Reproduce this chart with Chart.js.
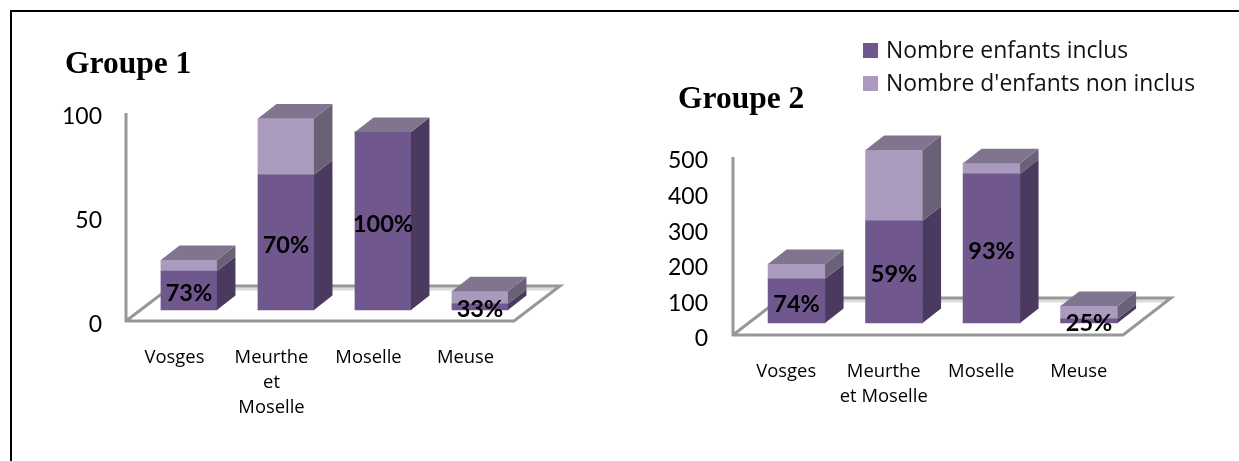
<!DOCTYPE html>
<html><head><meta charset="utf-8">
<script src="https://cdn.jsdelivr.net/npm/chart.js@4"></script>
<style>
html,body{margin:0;padding:0;background:#fff;}
body{width:1239px;height:461px;position:relative;overflow:hidden;}
#frame{position:absolute;left:9.5px;top:10px;width:1300px;height:500px;border-left:2px solid #000;border-top:2px solid #000;box-sizing:border-box;}
canvas{position:absolute;}
.title{position:absolute;font:bold 31.5px "Liberation Serif",serif;color:#000;white-space:nowrap;}
#legend{position:absolute;left:863px;top:34px;font:22.9px "Open Sans",sans-serif;color:#111;line-height:32.5px;white-space:nowrap;}
#legend i{display:inline-block;width:15px;height:15px;margin-right:8px;}
</style></head><body>
<div id="frame"></div>
<canvas id="c1" width="590" height="430" style="left:20px;top:14px;width:590px;height:430px"></canvas>
<canvas id="c2" width="600" height="430" style="left:630px;top:14px;width:600px;height:430px"></canvas>
<div class="title" style="left:65px;top:45px">Groupe 1</div>
<div class="title" style="left:678px;top:80px">Groupe 2</div>
<div id="legend"></div>
<script>
const seriesNames = ["Nombre enfants inclus", "Nombre d'enfants non inclus"];
const categories1 = ["Vosges", ["Meurthe", "et", "Moselle"], "Moselle", "Meuse"];
const categories2 = ["Vosges", ["Meurthe", "et Moselle"], "Moselle", "Meuse"];
const included1 = [18.7, 65, 85.6, 3];
const notIncluded1 = [5.3, 27, 0, 6];
const percent1 = ["73%", "70%", "100%", "33%"];
const included2 = [124, 287, 419, 12];
const notIncluded2 = [42, 199, 30, 36];
const percent2 = ["74%", "59%", "93%", "25%"];
const ticks1 = [0, 50, 100];
const ticks2 = [0, 100, 200, 300, 400, 500];

const DARK = "#70588f", LIGHT = "#aa9abd";
const SIDE = ["#4a3a5f", "#6b6177"], TOP = "#80758f", FLOOR = "#979797";

const depth3d = {
  id: "depth3d",
  beforeDatasetsDraw(chart, _a, o) {
    const { ctx, chartArea: ca } = chart;
    const l = ca.left, r = ca.right, b = ca.bottom;
    ctx.save();
    ctx.lineJoin = "miter";
    ctx.strokeStyle = "#dcdcdc"; ctx.lineWidth = 3;
    ctx.beginPath(); ctx.moveTo(l + o.floorX, b - o.floorY + 3); ctx.lineTo(r + o.floorX - 4, b - o.floorY + 3); ctx.stroke();
    ctx.strokeStyle = FLOOR; ctx.lineWidth = 3;
    ctx.beginPath();
    ctx.moveTo(l, ca.top); ctx.lineTo(l, b); ctx.lineTo(r, b);
    ctx.lineTo(r + o.floorX, b - o.floorY); ctx.lineTo(l + o.floorX, b - o.floorY); ctx.lineTo(l, b);
    ctx.stroke();
    ctx.restore();
  },
  afterDatasetsDraw(chart, _a, o) {
    const { ctx } = chart;
    const dx = o.dx, dy = o.dy;
    const metas = chart.getSortedVisibleDatasetMetas();
    ctx.save();
    metas.forEach((meta, di) => {
      meta.data.forEach((bar) => {
        const p = bar.getProps(["x", "y", "base", "width"], true);
        const xr = p.x + p.width / 2, xl = p.x - p.width / 2;
        if (p.base - p.y > 0.01) {
          ctx.fillStyle = SIDE[di];
          ctx.beginPath();
          ctx.moveTo(xr, p.base); ctx.lineTo(xr + dx, p.base - dy);
          ctx.lineTo(xr + dx, p.y - dy); ctx.lineTo(xr, p.y);
          ctx.closePath(); ctx.fill();
        }
        if (di === metas.length - 1) {
          ctx.fillStyle = TOP;
          ctx.beginPath();
          ctx.moveTo(xl, p.y); ctx.lineTo(xl + dx, p.y - dy);
          ctx.lineTo(xr + dx, p.y - dy); ctx.lineTo(xr, p.y);
          ctx.closePath(); ctx.fill();
        }
      });
    });
    ctx.fillStyle = "#000";
    ctx.font = "bold 23.5px Lato, sans-serif";
    ctx.textAlign = "center";
    ctx.textBaseline = "middle";
    metas[0].data.forEach((bar, i) => {
      const p = bar.getProps(["x", "y", "base"], true);
      ctx.fillText(o.labels[i], p.x, (p.y + p.base) / 2 + 3);
    });
    ctx.restore();
  }
};

function makeChart(id, cats, inc, non, pct, tickVals, cfg) {
  const points = (arr) => arr.map((v, i) => ({ x: i, y: v }));
  const tickMax = tickVals[tickVals.length - 1];
  return new Chart(document.getElementById(id), {
    type: "bar",
    data: {
      labels: cats,
      datasets: [
        { label: seriesNames[0], data: points(inc), backgroundColor: DARK, xAxisID: "xb", yAxisID: "y", barThickness: cfg.barW, clip: false },
        { label: seriesNames[1], data: points(non), backgroundColor: LIGHT, xAxisID: "xb", yAxisID: "y", barThickness: cfg.barW, clip: false }
      ]
    },
    options: {
      responsive: false,
      animation: false,
      events: [],
      layout: { padding: { top: cfg.padTop, right: cfg.padRight, left: 0, bottom: 0 } },
      plugins: {
        legend: { display: false },
        title: { display: false },
        tooltip: { enabled: false },
        depth3d: { dx: 18.5, dy: 14.5, floorX: cfg.floorX, floorY: cfg.floorY, labels: pct }
      },
      scales: {
        x: {
          type: "category", position: "bottom", offset: true,
          grid: { display: false }, border: { display: false },
          ticks: { color: "#000", padding: cfg.xPad, labelOffset: cfg.xLabelShift, maxRotation: 0, autoSkip: false, font: { family: "Open Sans", size: 18.4, lineHeight: 25 / 18.4 } },
          afterFit(s) { s.height = cfg.xH; }
        },
        yLeft: {
          type: "linear", position: "left", min: 0, max: tickMax,
          grid: { display: false }, border: { display: false },
          afterBuildTicks(s) { s.ticks = tickVals.map((v) => ({ value: v })); },
          ticks: { color: "#000", padding: cfg.yPad, labelOffset: 4, font: { family: "Lato", size: 23 } },
          afterFit(s) { s.width = cfg.yW; }
        },
        xb: { type: "linear", axis: "x", display: false, offset: false, stacked: true, min: cfg.xMin, max: cfg.xMax },
        y: { type: "linear", display: false, stacked: true, min: cfg.yMin, max: cfg.yMin + tickMax }
      }
    },
    plugins: [depth3d]
  });
}

makeChart("c1", categories1, included1, notIncluded1, percent1, ticks1, {
  barW: 56, padTop: 99, padRight: 96, xH: 123, yW: 106, xPad: 16.5, yPad: 16, xLabelShift: 0,
  xMin: -0.649, xMax: 3.351, yMin: -5.3, floorX: 46, floorY: 35
});
makeChart("c2", categories2, included2, notIncluded2, percent2, ticks2, {
  barW: 57, padTop: 143, padRight: 107, xH: 109, yW: 103, xPad: 16.5, yPad: 17, xLabelShift: 4.5,
  xMin: -0.652, xMax: 3.348, yMin: -33.7, floorX: 48, floorY: 37
});

const legend = document.getElementById("legend");
seriesNames.forEach((name, i) => {
  const row = document.createElement("div");
  const sw = document.createElement("i");
  sw.style.background = i ? LIGHT : DARK;
  row.appendChild(sw);
  row.appendChild(document.createTextNode(name));
  legend.appendChild(row);
});
</script>
</body></html>
